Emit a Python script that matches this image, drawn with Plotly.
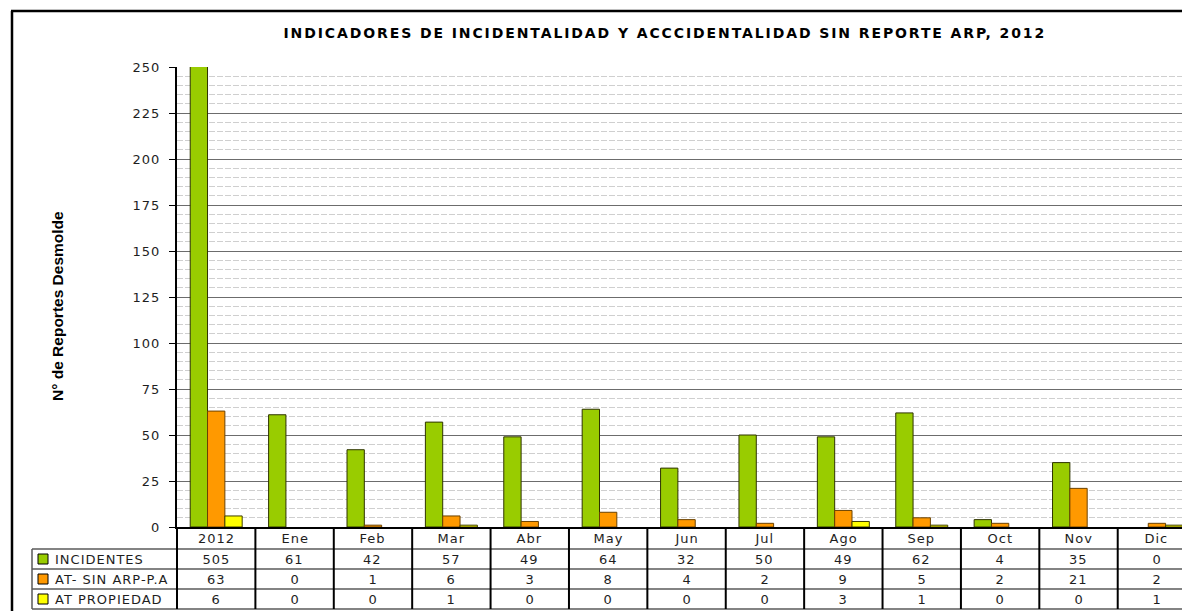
import plotly.graph_objects as go

# ---- data -------------------------------------------------------------
categories = ["2012", "Ene", "Feb", "Mar", "Abr", "May", "Jun",
              "Jul", "Ago", "Sep", "Oct", "Nov", "Dic"]
incidentes = [505, 61, 42, 57, 49, 64, 32, 50, 49, 62, 4, 35, 0]
at_sin_arp = [63, 0, 1, 6, 3, 8, 4, 2, 9, 5, 2, 21, 2]
at_propiedad = [6, 0, 0, 1, 0, 0, 0, 0, 3, 1, 0, 0, 1]
series_names = ["INCIDENTES", "AT- SIN ARP-P.A", "AT PROPIEDAD"]
y_ticks = list(range(0, 251, 25))

title_text = "INDICADORES DE INCIDENTALIDAD Y ACCCIDENTALIDAD SIN REPORTE ARP, 2012"
y_title = "N° de Reportes Desmolde"

# ---- styling ----------------------------------------------------------
fill_colors = ["#99CC00", "#FF9900", "#FFFF00"]
edge_colors = ["#2e3300", "#6b4200", "#3d3d00"]
TEXT = "#1e1e1e"
FONT = "DejaVu Sans, Liberation Sans, Arial"

W, H = 1182, 611
PLOT_L, PLOT_R, PLOT_T, PLOT_B = 177, 1182, 67, 527
X_RANGE = [-0.5, 12.32]
Y_RANGE = [0, 250]

# table rows (pixel rows below the plot area)
HEADER_BOTTOM = 549
ROW_EDGES = [549, 569, 589, 609]
LEGEND_LEFT = 32


def paper_x(p):
    return (p - PLOT_L) / (PLOT_R - PLOT_L)


def paper_y(p):
    return (PLOT_B - p) / (PLOT_B - PLOT_T)


def cat_to_px(v):
    return PLOT_L + (v - X_RANGE[0]) / (X_RANGE[1] - X_RANGE[0]) * (PLOT_R - PLOT_L)


series = [incidentes, at_sin_arp, at_propiedad]

fig = go.Figure()
for name, vals, fc, ec in zip(series_names, series, fill_colors, edge_colors):
    fig.add_trace(go.Bar(
        name=name,
        x=categories,
        y=[v if v else None for v in vals],
        marker=dict(color=fc, line=dict(color=ec, width=1)),
        hoverinfo="x+y+name",
    ))

shapes = []
annotations = []

# outer chart frame (top and left edges)
shapes.append(dict(type="line", xref="paper", yref="paper",
                   x0=paper_x(11), x1=paper_x(W + 10), y0=paper_y(11), y1=paper_y(11),
                   line=dict(color="black", width=2.5)))
shapes.append(dict(type="line", xref="paper", yref="paper",
                   x0=paper_x(12), x1=paper_x(12), y0=paper_y(11), y1=paper_y(H + 10),
                   line=dict(color="black", width=2.5)))

# data table: horizontal rules
for yb in ROW_EDGES:
    shapes.append(dict(type="line", xref="paper", yref="paper",
                       x0=paper_x(LEGEND_LEFT), x1=paper_x(W + 10),
                       y0=paper_y(yb), y1=paper_y(yb),
                       line=dict(color="#5a5a5a", width=1.5)))
# legend column left edge
shapes.append(dict(type="line", xref="paper", yref="paper",
                   x0=paper_x(LEGEND_LEFT), x1=paper_x(LEGEND_LEFT),
                   y0=paper_y(ROW_EDGES[0]), y1=paper_y(ROW_EDGES[-1]),
                   line=dict(color="#5a5a5a", width=1.5)))
# column separators, one at each category boundary
for i in range(len(categories) + 1):
    xb = cat_to_px(i - 0.5)
    if xb > W + 5:
        continue
    shapes.append(dict(type="line", xref="paper", yref="paper",
                       x0=paper_x(xb), x1=paper_x(xb),
                       y0=paper_y(PLOT_B), y1=paper_y(ROW_EDGES[-1]),
                       line=dict(color="black", width=2)))

# header row: category names
for i, c in enumerate(categories):
    annotations.append(dict(x=i, xref="x", y=paper_y((PLOT_B + HEADER_BOTTOM) / 2), yref="paper",
                            text=c, showarrow=False, xanchor="center", yanchor="middle",
                            font=dict(family=FONT, size=13, color=TEXT)))

# value rows
for r, (name, vals, fc) in enumerate(zip(series_names, series, fill_colors)):
    yc = (ROW_EDGES[r] + ROW_EDGES[r + 1]) / 2
    for i, v in enumerate(vals):
        annotations.append(dict(x=i, xref="x", y=paper_y(yc), yref="paper",
                                text=str(v), showarrow=False, xanchor="center", yanchor="middle",
                                font=dict(family=FONT, size=13, color=TEXT)))
    # legend key
    shapes.append(dict(type="rect", xref="paper", yref="paper",
                       x0=paper_x(38), x1=paper_x(48), y0=paper_y(yc - 5), y1=paper_y(yc + 5),
                       fillcolor=fc, line=dict(color="black", width=1)))
    annotations.append(dict(x=paper_x(53), xref="paper", y=paper_y(yc), yref="paper",
                            text=name, showarrow=False, xanchor="left", yanchor="middle",
                            align="left",
                            font=dict(family=FONT, size=13, color=TEXT)))

# title
annotations.append(dict(x=paper_x(665), xref="paper", y=paper_y(33), yref="paper",
                        text="<b>" + title_text + "</b>", showarrow=False,
                        xanchor="center", yanchor="middle",
                        font=dict(family=FONT, size=14, color="black")))
# y-axis title
annotations.append(dict(x=paper_x(57), xref="paper", y=paper_y(306), yref="paper",
                        text="<b>" + y_title + "</b>", showarrow=False, textangle=-90,
                        xanchor="center", yanchor="middle",
                        font=dict(family="Liberation Sans, Arial", size=15.5, color="black")))

fig.update_layout(
    width=W, height=H,
    margin=dict(l=PLOT_L, r=W - PLOT_R, t=PLOT_T, b=H - PLOT_B, pad=0),
    paper_bgcolor="white", plot_bgcolor="white",
    barmode="group", bargap=0.337, bargroupgap=0,
    showlegend=False,
    xaxis=dict(type="category", range=X_RANGE, showticklabels=False, ticks="",
               showgrid=False, showline=True, linecolor="black", linewidth=1.5,
               zeroline=False, fixedrange=True),
    yaxis=dict(range=Y_RANGE, tickvals=y_ticks, ticks="outside", ticklen=6,
               tickcolor="black", tickwidth=1, showline=True, linecolor="black",
               linewidth=2, gridcolor="#6c6c6c", gridwidth=1, zeroline=False,
               ticklabelstandoff=6,
               tickfont=dict(family=FONT, size=13, color=TEXT),
               minor=dict(dtick=5, showgrid=True, gridcolor="#cfcfcf",
                          griddash="6px,2px", gridwidth=1, ticks=""),
               fixedrange=True),
    shapes=shapes,
    annotations=annotations,
)

# widen the tracking of the chart lettering (title more than the rest)
spacing_js = """
var gd = document.getElementById('{plot_id}');
gd.querySelectorAll('text.annotation-text').forEach(function (t) {
  var s = t.textContent;
  if (s.indexOf('INDICADORES') === 0) { t.style.letterSpacing = '1.9px'; }
  else if (s.indexOf('N°') !== 0) { t.style.letterSpacing = '1px'; }
});
gd.querySelectorAll('g.ytick text').forEach(function (t) { t.style.letterSpacing = '1px'; });
"""

fig.write_html("out.html", post_script=spacing_js)
